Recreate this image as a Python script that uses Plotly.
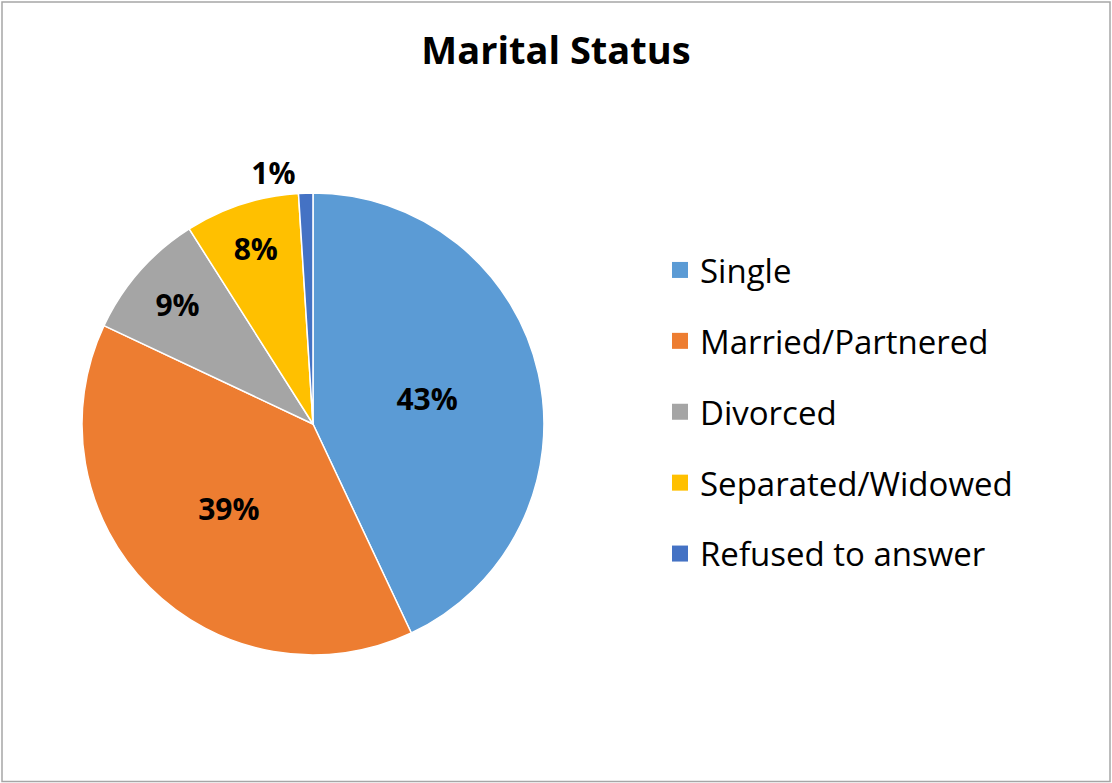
import plotly.graph_objects as go

labels = ["Single", "Married/Partnered", "Divorced", "Separated/Widowed", "Refused to answer"]
values = [43, 39, 9, 8, 1]
colors = ["#5B9BD5", "#ED7D31", "#A5A5A5", "#FFC000", "#4472C4"]
text_pos = ["inside", "inside", "inside", "inside", "outside"]

FONT = "Open Sans"
W, H = 1112, 783

fig = go.Figure()

fig.add_trace(go.Pie(
    labels=labels, values=values, sort=False, direction="clockwise", rotation=0,
    marker=dict(colors=colors, line=dict(color="white", width=1.5)),
    texttemplate="%{percent:.0%}", textposition=text_pos,
    insidetextorientation="horizontal",
    textfont=dict(family=FONT, size=30, color="black", weight="bold"),
    domain=dict(x=[0.0737, 0.4892], y=[0.1635, 0.7535]),
    showlegend=False, hoverinfo="label+percent",
))

# legend entries as separate groups so the gap between them can be set
for lab, col in zip(labels, colors):
    fig.add_trace(go.Scatter(
        x=[None], y=[None], mode="markers", name=lab, legendgroup=lab,
        marker=dict(symbol="square", size=16, color=col),
    ))

fig.update_layout(
    width=W, height=H,
    margin=dict(l=0, r=0, t=0, b=0),
    paper_bgcolor="white", plot_bgcolor="white",
    font=dict(family=FONT, color="black"),
    title=dict(text="<b>Marital Status</b>", x=0.5, xanchor="center",
               y=1 - 51 / H, yanchor="middle", font=dict(size=38, family=FONT)),
    xaxis=dict(visible=False), yaxis=dict(visible=False),
    legend=dict(x=660 / W, xanchor="left", y=1 - 242 / H, yanchor="top",
                font=dict(size=33, family=FONT), tracegroupgap=25,
                bgcolor="rgba(0,0,0,0)"),
    shapes=[dict(type="rect", xref="paper", yref="paper",
                 x0=2 / W, x1=1110 / W, y0=1.5 / H, y1=781 / H,
                 line=dict(color="#A6A6A6", width=1.5))],
)

fig.write_html("out.html", config={"displayModeBar": False},
               post_script="document.body.style.margin='0';")
